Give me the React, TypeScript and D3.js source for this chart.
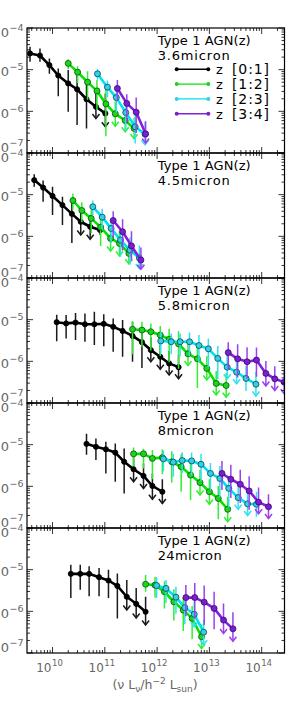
import React from "react";
import * as d3 from "d3";

type Pt = [number, number, number, number, number];

// rows: log10(nu L_nu), log10(phi), err up (dex), err down / arrow length (dex), 1 = upper limit
const ch1_z01: Pt[] = [
  [9.57, -4.61, 0.16, 0.2, 0], [9.76, -4.66, 0.17, 0.15, 0], [9.94, -4.89, 0.16, 0.21, 0],
  [10.11, -5.14, 0.17, 0.5, 0], [10.3, -5.33, 0.32, 0.68, 0], [10.47, -5.47, 0.42, 0.86, 0],
  [10.65, -5.71, 0.34, 0.7, 0], [10.83, -5.89, 0.32, 0.28, 1], [11.01, -6.05, 0.48, 0.32, 1],
];
const ch1_z12: Pt[] = [
  [10.3, -4.85, 0.1, 0.14, 0], [10.48, -5.06, 0.14, 0.26, 0], [10.67, -5.3, 0.26, 0.42, 0],
  [10.85, -5.51, 0.26, 0.46, 0], [11.02, -5.82, 0.34, 0.78, 0], [11.2, -6.06, 0.3, 0.3, 1],
  [11.39, -6.22, 0.25, 0.27, 1], [11.56, -6.41, 0.25, 0.25, 1],
];
const ch1_z23: Pt[] = [
  [10.86, -5.1, 0.12, 0.14, 0], [11.05, -5.42, 0.16, 0.24, 0], [11.22, -5.67, 0.2, 0.35, 0],
  [11.4, -6.03, 0.28, 0.45, 0], [11.58, -6.37, 0.3, 0.4, 0], [11.77, -6.55, 0.3, 0.25, 1],
];
const ch1_z34: Pt[] = [
  [11.24, -5.45, 0.2, 0.3, 0], [11.42, -5.81, 0.22, 0.45, 0], [11.6, -6.02, 0.35, 0.5, 0],
  [11.78, -6.54, 0.3, 0.22, 1],
];

const ch2_z01: Pt[] = [
  [9.65, -4.65, 0.14, 0.16, 0], [9.82, -4.83, 0.17, 0.34, 0], [10.0, -5.03, 0.22, 0.46, 0],
  [10.19, -5.25, 0.2, 0.48, 0], [10.37, -5.46, 0.3, 0.7, 0], [10.54, -5.65, 0.24, 0.32, 1],
  [10.72, -5.77, 0.28, 0.3, 1], [10.91, -5.85, 0.12, 0.12, 0],
];
const ch2_z12: Pt[] = [
  [10.39, -5.14, 0.17, 0.22, 0], [10.56, -5.38, 0.2, 0.28, 0], [10.74, -5.57, 0.2, 0.35, 0],
  [10.92, -5.78, 0.25, 0.45, 0], [11.11, -6.05, 0.3, 0.3, 1], [11.28, -6.17, 0.3, 0.3, 1],
  [11.46, -6.41, 0.3, 0.25, 1],
];
const ch2_z23: Pt[] = [
  [10.77, -5.29, 0.15, 0.2, 0], [10.95, -5.54, 0.2, 0.3, 0], [11.12, -5.81, 0.22, 0.35, 0],
  [11.3, -6.09, 0.25, 0.4, 0], [11.48, -6.33, 0.3, 0.35, 0], [11.66, -6.52, 0.3, 0.25, 1],
];
const ch2_z34: Pt[] = [
  [11.16, -5.62, 0.22, 0.4, 0], [11.34, -5.89, 0.3, 0.45, 0], [11.51, -6.23, 0.35, 0.35, 0],
  [11.69, -6.57, 0.3, 0.22, 1],
];

const ch3_z01: Pt[] = [
  [10.08, -5.06, 0.18, 0.46, 0], [10.26, -5.09, 0.2, 0.36, 0], [10.44, -5.07, 0.23, 0.42, 0],
  [10.62, -5.11, 0.26, 0.42, 0], [10.8, -5.11, 0.3, 0.5, 0], [10.98, -5.1, 0.23, 0.54, 0],
  [11.16, -5.17, 0.2, 0.6, 0], [11.34, -5.27, 0.26, 0.62, 0], [11.53, -5.39, 0.34, 0.62, 0],
  [11.71, -5.54, 0.3, 0.62, 0], [11.88, -5.73, 0.3, 0.28, 1], [12.06, -5.89, 0.3, 0.3, 1],
  [12.23, -6.05, 0.3, 0.28, 1], [12.41, -6.14, 0.3, 0.28, 1],
];
const ch3_z12: Pt[] = [
  [11.53, -5.23, 0.19, 0.6, 0], [11.71, -5.25, 0.2, 0.4, 0], [11.88, -5.29, 0.2, 0.45, 0],
  [12.06, -5.37, 0.22, 0.5, 0], [12.23, -5.47, 0.25, 0.55, 0], [12.41, -5.58, 0.3, 0.6, 0],
  [12.59, -5.82, 0.3, 0.28, 1], [12.77, -5.94, 0.3, 0.7, 0], [12.95, -6.17, 0.3, 0.28, 1],
  [13.13, -6.53, 0.3, 0.28, 1], [13.32, -6.58, 0.3, 0.28, 1],
];
const ch3_z23: Pt[] = [
  [12.07, -5.51, 0.22, 0.3, 0], [12.27, -5.53, 0.2, 0.3, 0], [12.44, -5.53, 0.2, 0.35, 0],
  [12.62, -5.53, 0.22, 0.35, 0], [12.8, -5.62, 0.25, 0.4, 0], [12.98, -5.7, 0.25, 0.45, 0],
  [13.16, -5.93, 0.3, 0.5, 0], [13.34, -6.14, 0.3, 0.28, 1], [13.52, -6.26, 0.3, 0.28, 1],
  [13.7, -6.41, 0.3, 0.3, 0], [13.89, -6.55, 0.3, 0.28, 1],
];
const ch3_z34: Pt[] = [
  [13.36, -5.79, 0.25, 0.4, 0], [13.54, -5.94, 0.35, 0.45, 0], [13.72, -6.01, 0.35, 0.4, 0],
  [13.9, -5.97, 0.3, 0.4, 0], [14.08, -6.29, 0.3, 0.3, 1], [14.25, -6.42, 0.3, 0.28, 1],
  [14.43, -6.5, 0.3, 0.28, 1],
];

const ch4_z01: Pt[] = [
  [10.65, -4.98, 0.24, 0.26, 0], [10.83, -5.05, 0.2, 0.32, 0], [11.02, -5.11, 0.18, 0.58, 0],
  [11.2, -5.19, 0.22, 0.7, 0], [11.37, -5.41, 0.32, 0.76, 0], [11.55, -5.59, 0.3, 0.3, 1],
  [11.74, -5.75, 0.3, 0.3, 1], [11.91, -5.99, 0.3, 0.32, 1], [12.1, -6.13, 0.3, 0.28, 1],
];
const ch4_z12: Pt[] = [
  [11.55, -5.22, 0.15, 0.3, 0], [11.74, -5.22, 0.12, 0.35, 0], [11.91, -5.33, 0.2, 0.5, 0],
  [12.1, -5.31, 0.2, 0.4, 0], [12.28, -5.41, 0.25, 0.5, 0], [12.46, -5.53, 0.3, 0.6, 0],
  [12.64, -5.73, 0.3, 0.6, 0], [12.82, -5.91, 0.3, 0.3, 1], [13.0, -6.13, 0.3, 0.3, 1],
  [13.17, -6.29, 0.3, 0.5, 0], [13.35, -6.55, 0.3, 0.3, 1],
];
const ch4_z23: Pt[] = [
  [12.12, -5.34, 0.2, 0.3, 0], [12.31, -5.42, 0.2, 0.35, 0], [12.48, -5.38, 0.2, 0.3, 0],
  [12.66, -5.39, 0.2, 0.35, 0], [12.84, -5.47, 0.25, 0.4, 0], [13.02, -5.69, 0.25, 0.4, 0],
  [13.2, -5.81, 0.3, 0.45, 0], [13.37, -6.05, 0.3, 0.45, 0], [13.55, -6.27, 0.3, 0.28, 1],
  [13.73, -6.42, 0.3, 0.28, 1], [13.9, -6.43, 0.3, 0.3, 0],
];
const ch4_z34: Pt[] = [
  [13.24, -5.69, 0.3, 0.4, 0], [13.41, -5.83, 0.35, 0.45, 0], [13.59, -5.95, 0.35, 0.45, 0],
  [13.76, -6.11, 0.35, 0.45, 0], [13.94, -6.38, 0.35, 0.28, 1], [14.13, -6.49, 0.3, 0.28, 1],
];

const ch5_z01: Pt[] = [
  [10.35, -5.1, 0.22, 0.58, 0], [10.53, -5.1, 0.22, 0.38, 0], [10.7, -5.1, 0.18, 0.54, 0],
  [10.89, -5.18, 0.22, 0.46, 0], [11.07, -5.26, 0.26, 0.42, 0], [11.24, -5.39, 0.3, 0.78, 0],
  [11.42, -5.65, 0.4, 0.32, 1], [11.6, -5.82, 0.38, 0.34, 1], [11.78, -6.01, 0.36, 0.32, 1],
];
const ch5_z12: Pt[] = [
  [11.78, -5.35, 0.22, 0.18, 0], [11.96, -5.37, 0.2, 0.3, 0], [12.14, -5.53, 0.25, 0.4, 0],
  [12.32, -5.77, 0.3, 0.45, 0], [12.5, -5.97, 0.3, 0.5, 0], [12.67, -6.17, 0.3, 0.5, 0],
  [12.85, -6.61, 0.3, 0.28, 1],
];
const ch5_z23: Pt[] = [
  [11.99, -5.38, 0.2, 0.3, 0], [12.17, -5.45, 0.2, 0.35, 0], [12.36, -5.66, 0.25, 0.4, 0],
  [12.53, -5.91, 0.3, 0.4, 0], [12.71, -6.07, 0.3, 0.3, 1], [12.89, -6.5, 0.3, 0.3, 1],
];
const ch5_z34: Pt[] = [
  [12.55, -5.67, 0.3, 0.45, 0], [12.72, -5.67, 0.35, 0.5, 0], [12.9, -5.78, 0.4, 0.55, 0],
  [13.09, -5.93, 0.4, 0.5, 0], [13.27, -6.21, 0.4, 0.32, 1], [13.45, -6.42, 0.4, 0.3, 1],
];

const bands = ["3.6micron", "4.5micron", "5.8micron", "8micron", "24micron"];
const zBins = ["[0:1]", "[1:2]", "[2:3]", "[3:4]"];
const yDecades = [-4, -5, -6, -7];
const xDecades = [10, 11, 12, 13, 14];

const panels: Pt[][][] = [
  [ch1_z01, ch1_z12, ch1_z23, ch1_z34],
  [ch2_z01, ch2_z12, ch2_z23, ch2_z34],
  [ch3_z01, ch3_z12, ch3_z23, ch3_z34],
  [ch4_z01, ch4_z12, ch4_z23, ch4_z34],
  [ch5_z01, ch5_z12, ch5_z23, ch5_z34],
];

const lineColors = ["#000000", "#00e400", "#00e0f0", "#8420e0"];
const barColors = ["#1a1a1a", "#30ee30", "#30e0f0", "#9a40f0"];
const dotFill = ["#000000", "#22d022", "#33d0e0", "#7a1ed0"];
const dotStroke = ["#000000", "#005a00", "#00485a", "#3a0a6a"];

const W = 295;
const H = 709;
const X0 = 27;
const X1 = 284.5;
const TOP = 28;
const PH = 125;
const GRAY = "#666";

export default function App() {
  const x = d3.scaleLog().domain([10 ** 9.512, 10 ** 14.436]).range([X0, X1]);
  const xMinor = x.ticks();

  return (
    <svg
      width={W}
      height={H}
      style={{ position: "absolute", left: 0, top: 0, background: "#fff" }}
      fontFamily="DejaVu Sans, sans-serif"
    >
      {panels.map((series, i) => {
        const top = TOP + i * PH;
        const bot = top + PH;
        const y = d3.scaleLog().domain([1e-7, 1e-4]).range([bot, top]);
        const yMinor = y.ticks();
        const ln = d3
          .line<Pt>()
          .x((d) => x(10 ** d[0]))
          .y((d) => y(10 ** d[1]));
        return (
          <g key={i}>
            <defs>
              <clipPath id={`clip${i}`}>
                <rect x={X0} y={top} width={X1 - X0} height={PH} />
              </clipPath>
            </defs>
            <g clipPath={`url(#clip${i})`}>
              {series.map((s, k) => (
                <g key={k}>
                  {s.map((d, j) => {
                    const px = x(10 ** d[0]);
                    const y1 = y(10 ** (d[1] + d[2]));
                    const y2 = y(10 ** (d[1] - d[3]));
                    return (
                      <g key={j} stroke={barColors[k]} strokeWidth={1.5} fill="none">
                        <line x1={px} x2={px} y1={y1} y2={y2} />
                        {d[4] ? (
                          <path d={`M${px - 3.5},${y2 - 4.5}L${px},${y2}L${px + 3.5},${y2 - 4.5}`} />
                        ) : null}
                      </g>
                    );
                  })}
                  <path d={ln(s) || ""} stroke={lineColors[k]} strokeWidth={2.6} fill="none" strokeLinejoin="round" />
                  {s.map((d, j) => (
                    <circle
                      key={j}
                      cx={x(10 ** d[0])}
                      cy={y(10 ** d[1])}
                      r={k === 0 ? 2.6 : 3}
                      fill={dotFill[k]}
                      stroke={dotStroke[k]}
                      strokeWidth={0.8}
                    />
                  ))}
                </g>
              ))}
            </g>

            {/* frame + ticks */}
            <rect x={X0} y={top} width={X1 - X0} height={PH} fill="none" stroke="#000" strokeWidth={1.2} />
            {yMinor.map((v, j) => {
              const major = Math.abs(Math.log10(v) - Math.round(Math.log10(v))) < 1e-6;
              const len = major ? 6 : 3;
              const py = y(v);
              return (
                <g key={`y${j}`} stroke="#000" strokeWidth={0.8}>
                  <line x1={X0} x2={X0 + len} y1={py} y2={py} />
                  <line x1={X1} x2={X1 - len} y1={py} y2={py} />
                </g>
              );
            })}
            {xMinor.map((v, j) => {
              const major = Math.abs(Math.log10(v) - Math.round(Math.log10(v))) < 1e-6;
              const len = major ? 6 : 3;
              const px = x(v);
              return (
                <g key={`x${j}`} stroke="#000" strokeWidth={0.8}>
                  <line x1={px} x2={px} y1={bot} y2={bot - len} />
                  <line x1={px} x2={px} y1={top} y2={top + len} />
                </g>
              );
            })}

            {/* y labels */}
            {yDecades.map((e) => {
              const ty = y(10 ** e);
              const base = e === -4 ? ty + 8.7 : e === -7 ? ty - 1.3 : ty + 6.2;
              return (
                <g key={`yl${e}`} fill={GRAY}>
                  <text x={9} y={base} fontSize={13} textAnchor="end">10</text>
                  <text x={9.5} y={base - 5.5} fontSize={9.5}>{`\u2212${-e}`}</text>
                </g>
              );
            })}

            <text x={157.7} y={top + 16.5} fontSize={13} textLength={93} lengthAdjust="spacing">
              Type 1 AGN(z)
            </text>
            <text x={157.7} y={top + 31.5} fontSize={13} textLength={bands[i].length * 8} lengthAdjust="spacing">
              {bands[i]}
            </text>
          </g>
        );
      })}

      {/* legend in top panel */}
      {zBins.map((b, k) => {
        const ly = 69.3 + k * 14.8;
        return (
          <g key={b}>
            <line x1={176.7} x2={208.3} y1={ly} y2={ly} stroke={lineColors[k]} strokeWidth={1.4} />
            <circle cx={176.7} cy={ly} r={2} fill={dotFill[k]} />
            <circle cx={208.3} cy={ly} r={2} fill={dotFill[k]} />
            <text x={216} y={ly + 5} fontSize={13}>z</text>
            <text x={232} y={ly + 5} fontSize={14} textLength={37} lengthAdjust="spacing">{b}</text>
          </g>
        );
      })}

      {/* x labels */}
      {xDecades.map((e) => {
        const tx = x(10 ** e);
        return (
          <g key={`xl${e}`} fill={GRAY}>
            <text x={tx - 1} y={672} fontSize={12} textAnchor="end">10</text>
            <text x={tx - 0.5} y={665.5} fontSize={8.5}>{e}</text>
          </g>
        );
      })}
      <text x={155} y={689} fontSize={12.5} fill={GRAY} textAnchor="middle">
        (ν L<tspan fontSize={9} dy={3}>ν</tspan>
        <tspan dy={-3}>/h</tspan>
        <tspan fontSize={9} dy={-5}>−2</tspan>
        <tspan dy={5}> L</tspan>
        <tspan fontSize={9} dy={3}>sun</tspan>
        <tspan dy={-3}>)</tspan>
      </text>
    </svg>
  );
}
